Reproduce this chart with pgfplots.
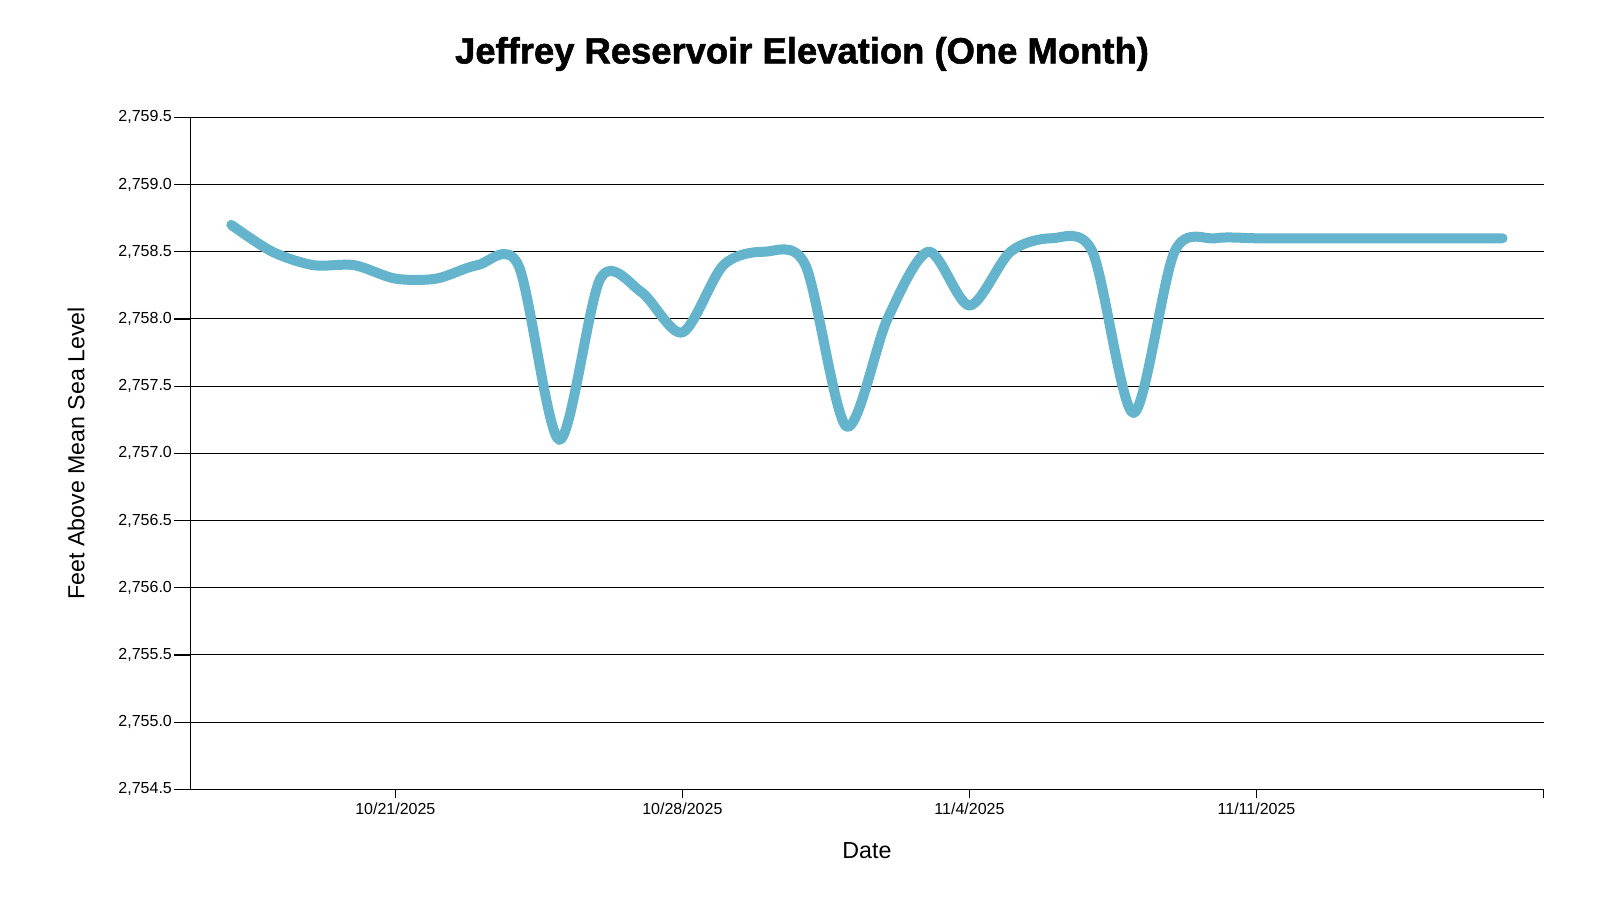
\documentclass[border=0pt]{standalone}
\usepackage{pgfplots}
\pgfplotsset{compat=1.18}
\usepackage{fontspec}
\setmainfont{Liberation Sans}
\newfontfamily\titlefont[FakeBold=1.5]{Liberation Sans Bold}

\definecolor{lineblue}{RGB}{100,180,205}

% 1 px of the 1600x900 reference = 0.75pt
\begin{document}
\begin{tikzpicture}
\path[use as bounding box] (-142.7pt,-83pt) rectangle (1057.3pt,592pt);
\begin{axis}[
    at={(0,0)}, anchor=south west,
    scale only axis,
    width=1015pt, height=504pt,
    xmin=0, xmax=33,
    ymin=2754.5, ymax=2759.5,
    axis x line*=bottom,
    axis y line*=left,
    axis line style={black, line width=0.9pt, -},
    tick align=outside,
    xtick={5,12,19,26},
    xticklabels={10/21/2025,10/28/2025,11/4/2025,11/11/2025},
    extra x ticks={33},
    extra x tick labels={},
    ytick={2754.5,2755,2755.5,2756,2756.5,2757,2757.5,2758,2758.5,2759,2759.5},
    xtick style={black, line width=0.9pt, /pgfplots/major tick length=6.75pt},
    ytick style={black, line width=0.9pt, /pgfplots/major tick length=12pt},
    extra x tick style={/pgfplots/major tick length=6.75pt},
    ymajorgrids,
    major grid style={black, line width=0.8pt},
    tick label style={font=\fontsize{12pt}{14pt}\selectfont},
    /pgf/number format/assume math mode=true,
    yticklabel style={xshift=-6pt},
    yticklabel style={/pgf/number format/fixed, /pgf/number format/fixed zerofill,
        /pgf/number format/precision=1, /pgf/number format/1000 sep={,}},
    xticklabel style={yshift=-2.5pt},
    xlabel={Date},
    ylabel={Feet Above Mean Sea Level},
    label style={font=\fontsize{17.4pt}{20pt}\selectfont},
    xlabel style={at={(axis description cs:0.5,0)}, anchor=center, yshift=-46pt},
    ylabel style={at={(axis description cs:-0.0844,0.5)}, anchor=center},
    clip=false,
]
\addplot[lineblue, line width=7.5pt, line cap=round, line join=round, smooth, tension=0.5] coordinates {
    (1,2758.7) (2,2758.5) (3,2758.4) (4,2758.4) (5,2758.3) (6,2758.3)
    (7,2758.4) (8,2758.4) (9,2757.1) (10,2758.3) (11,2758.2) (12,2757.9)
    (13,2758.4) (14,2758.5) (15,2758.4) (16,2757.2) (17,2758.0) (18,2758.5)
    (19,2758.1) (20,2758.5) (21,2758.6) (22,2758.5) (23,2757.3) (24,2758.5)
    (25,2758.6) (26,2758.6) (27,2758.6) (28,2758.6) (29,2758.6) (30,2758.6)
    (31,2758.6) (32,2758.6)
};
\end{axis}
\node[font=\titlefont\fontsize{27.3pt}{32pt}\selectfont, anchor=center] at (458.8pt,551.5pt) {Jeffrey Reservoir Elevation (One Month)};
\end{tikzpicture}
\end{document}
